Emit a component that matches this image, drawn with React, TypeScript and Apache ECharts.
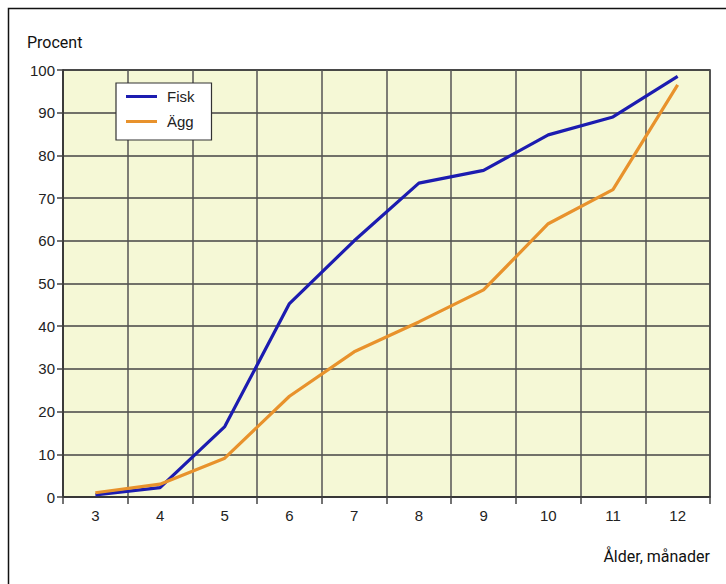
import React, { useEffect, useRef } from "react";
import * as echarts from "echarts";

const months = ["3", "4", "5", "6", "7", "8", "9", "10", "11", "12"];
const fisk = [0.5, 2.2, 16.5, 45.3, 60, 73.5, 76.5, 84.8, 89, 98.5];
const agg = [1, 3, 9.1, 23.6, 34, 41, 48.5, 64, 72, 96.5];

export default function App() {
  const ref = useRef<HTMLDivElement>(null);
  useEffect(() => {
    const chart = echarts.init(ref.current!, null, { renderer: "svg" });
    const labelFont = "'Liberation Sans', Arial, sans-serif";
    const titleFont = "'Liberation Sans Narrow', 'Roboto', sans-serif";
    chart.setOption({
      animation: false,
      backgroundColor: "#ffffff",
      grid: {
        left: 63,
        right: 16,
        top: 70,
        bottom: 87,
        show: true,
        backgroundColor: "#f5f8d6",
        borderColor: "#222",
        borderWidth: 1.5,
      },
      legend: {
        left: 116,
        top: 83,
        orient: "vertical",
        itemWidth: 31,
        itemHeight: 3,
        itemGap: 10,
        padding: [6, 17, 11, 10],
        backgroundColor: "#ffffff",
        borderColor: "#333",
        borderWidth: 1.2,
        textStyle: {
          fontFamily: labelFont,
          fontSize: 15,
          color: "#222",
          padding: [0, 0, 0, 5],
        },
        data: [
          { name: "Fisk", icon: "rect" },
          { name: "Ägg", icon: "rect" },
        ],
      },
      xAxis: {
        type: "category",
        data: months,
        boundaryGap: true,
        axisLine: { show: true, lineStyle: { color: "#333", width: 1.5 } },
        axisTick: { show: true, length: 7, lineStyle: { color: "#444", width: 1.5 } },
        axisLabel: { fontFamily: labelFont, fontSize: 15, color: "#222", margin: 11 },
        splitLine: { show: true, lineStyle: { color: "#555", width: 1.5 } },
        name: "Ålder, månader",
        nameLocation: "end",
        nameGap: 0,
        nameTextStyle: {
          fontFamily: titleFont,
          fontSize: 16,
          color: "#111",
          align: "right",
          verticalAlign: "top",
          padding: [51, 0, 0, 0],
        },
      },
      yAxis: {
        type: "value",
        min: 0,
        max: 100,
        interval: 10,
        axisLine: { show: true, lineStyle: { color: "#333", width: 1.5 } },
        axisTick: { show: true, length: 6, lineStyle: { color: "#444", width: 1.5 } },
        axisLabel: { fontFamily: labelFont, fontSize: 15, color: "#222", margin: 8 },
        splitLine: { show: true, lineStyle: { color: "#444", width: 1.5 } },
        name: "Procent",
        nameLocation: "end",
        nameGap: 20,
        nameTextStyle: {
          fontFamily: titleFont,
          fontSize: 16,
          color: "#111",
          align: "left",
          padding: [0, 0, 0, -36],
        },
      },
      series: [
        {
          name: "Fisk",
          type: "line",
          data: fisk,
          symbol: "none",
          lineStyle: { color: "#1c1cb0", width: 3.2 },
          itemStyle: { color: "#1c1cb0" },
        },
        {
          name: "Ägg",
          type: "line",
          data: agg,
          symbol: "none",
          lineStyle: { color: "#e8922c", width: 3.2 },
          itemStyle: { color: "#e8922c" },
        },
      ],
      graphic: [
        {
          type: "polyline",
          shape: { points: [[8.5, 584], [8.5, 8.5], [726, 8.5]] },
          style: { stroke: "#111", lineWidth: 1.5, fill: null },
          silent: true,
        },
      ],
    });
    return () => chart.dispose();
  }, []);
  return (
    <div
      ref={ref}
      style={{ position: "absolute", left: 0, top: 0, width: 726, height: 584 }}
    />
  );
}
